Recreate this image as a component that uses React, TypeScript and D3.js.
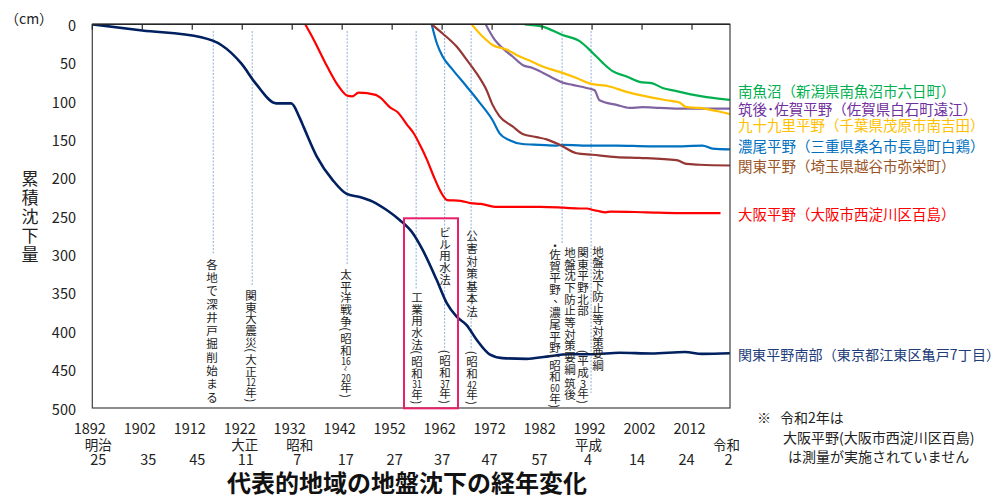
import React from "react";
import * as d3 from "d3";

// ---------- data ----------
const tickYears = [1892, 1902, 1912, 1922, 1932, 1942, 1952, 1962, 1972, 1982, 1992, 2002, 2012];
const yTicks = [0, 50, 100, 150, 200, 250, 300, 350, 400, 450, 500];
const eraNames: [string, number][] = [["明治", 1893.2], ["大正", 1922.5], ["昭和", 1933.5], ["平成", 1991.3], ["令和", 2018.9]];
const eraNums: [string, number][] = [["25", 1893.2], ["35", 1903.2], ["45", 1913], ["11", 1922.7], ["7", 1933], ["17", 1942.7], ["27", 1952.5], ["37", 1962], ["47", 1971.5], ["57", 1981.5], ["4", 1991.2], ["14", 2001], ["24", 2010.9], ["2", 2019.3]];

const kameido: [number, number][] = [[1892, 0], [1902, 8], [1913.8, 17], [1917.8, 27], [1921.8, 51], [1924.8, 78], [1928.8, 103], [1931.8, 103], [1933.5, 122], [1934.3, 134], [1936.9, 172], [1940.1, 203], [1942.9, 221], [1945.5, 225], [1948.1, 231], [1950.9, 242], [1953.5, 255], [1956.1, 272], [1958.1, 294], [1960.9, 333], [1962.9, 363], [1964.9, 381], [1966.9, 392], [1968.9, 411], [1971.5, 430], [1974.1, 435], [1978.9, 436], [1982.9, 433], [1987.5, 430], [1992.1, 430], [1997.5, 428], [2003.9, 429], [2010.6, 427], [2014, 429.5], [2019.6, 428.7]];
const osaka: [number, number][] = [[1934.6, 0], [1936.3, 20], [1939, 55], [1941.3, 81], [1943, 93], [1944, 94], [1945.3, 89], [1948.7, 92], [1949.7, 96], [1951.7, 109], [1953, 114], [1955, 131], [1956.3, 142], [1957.7, 159], [1959, 177], [1960.3, 198], [1961.7, 218], [1963, 229], [1965.7, 230], [1967.7, 233], [1969.7, 234], [1973, 238], [1976.3, 238], [1981.7, 238], [1986.3, 239], [1989.6, 240], [1991, 240], [1992.2, 242], [1993, 243], [1994.7, 245], [1995.7, 244], [2002.9, 245], [2009.7, 246], [2017.7, 246]];
const nobi: [number, number][] = [[1959.9, 0], [1960.9, 24], [1962.1, 42], [1964.1, 59], [1966.9, 81], [1969.5, 102], [1972.1, 125], [1973.5, 142], [1975.5, 151], [1978.1, 156], [1981.5, 157], [1984.9, 158], [1986.1, 157], [1990.1, 158], [1996.9, 158], [2003.5, 159], [2010.1, 159], [2014.1, 158], [2016.1, 162], [2019.6, 163]];
const kanto: [number, number][] = [[1959.9, 0], [1962.1, 12], [1964.9, 29], [1966.9, 46], [1968.9, 64], [1970.9, 86], [1972.1, 105], [1973.5, 120], [1976.1, 133], [1978.1, 143], [1980.9, 147], [1982.9, 150], [1985.5, 157], [1988.9, 168], [1992.1, 170], [1996.9, 173], [2001.5, 174], [2008.9, 177], [2010.9, 182], [2013.5, 183], [2019.6, 184]];
const kujukuri: [number, number][] = [[1967.9, 0], [1970.1, 16], [1972.1, 27], [1974.9, 33], [1977.5, 42], [1980.1, 49], [1982.1, 55], [1985.5, 62], [1988.9, 70], [1991.5, 77], [1995.5, 81], [1998.9, 88], [2002.1, 93], [2006.9, 99], [2009.5, 102], [2010.9, 108], [2013.5, 109], [2016.9, 113], [2019.6, 117]];
const chikugo: [number, number][] = [[1970.7, 0], [1972.5, 20], [1974.1, 31], [1976.1, 42], [1978.1, 53], [1980.1, 57], [1982.1, 63], [1984.1, 70], [1986.1, 76], [1988.1, 79], [1990.9, 83], [1992.5, 86], [1993.5, 99], [1996.9, 105], [1999.5, 109], [2002.1, 108], [2005.5, 109], [2010.1, 110], [2019.6, 110]];
const minamiuonuma: [number, number][] = [[1978.5, 0], [1982.1, 3], [1986.1, 14], [1989.5, 22], [1992.1, 37], [1994.1, 50], [1996.1, 61], [1998.9, 68], [2001.5, 75], [2004.1, 77], [2006.1, 83], [2008.9, 87], [2011.5, 91], [2014.9, 95], [2019.6, 98.5]];

const seriesNames = [
  "南魚沼（新潟県南魚沼市六日町）",
  "筑後･佐賀平野（佐賀県白石町遠江）",
  "九十九里平野（千葉県茂原市南吉田）",
  "濃尾平野（三重県桑名市長島町白鶏）",
  "関東平野（埼玉県越谷市弥栄町）",
  "大阪平野（大阪市西淀川区百島）",
  "関東平野南部（東京都江東区亀戸7丁目）",
];
const seriesData = [minamiuonuma, chikugo, kujukuri, nobi, kanto, osaka, kameido];

// events: year of the dashed line
const eventYears = [1916.2, 1924, 1943, 1956.8, 1962.5, 1967.8, 1986, 1991.8];

// ---------- styles / layout ----------
const lineColors = ["#00B050", "#8064A2", "#FFC000", "#0070C0", "#953735", "#FF0000", "#002060"];
const textColors = ["#00B050", "#7030A0", "#FFC000", "#0070C0", "#9A5527", "#FF0000", "#1F3D7A"];
const labelY = [90, 108, 124.5, 145.7, 165, 213.3, 354];
const eventLineEnd = [255, 286, 265, 290, 350, 350, 243, 393];

const FONT = "'Noto Sans CJK JP', 'Noto Sans', sans-serif";

const x = d3.scaleLinear().domain([1892, 2019.6]).range([92.3, 730]);
const y = d3.scaleLinear().domain([0, 500]).range([24.3, 408]);

type Col = { x: number; y0: number; text: string; step?: number };
const vcols: Col[] = [
  { x: 212, y0: 257, text: "各地で深井戸掘削始まる", step: 13.3 },
  { x: 251, y0: 289, text: "関東大震災（大正12年）" },
  { x: 346, y0: 268, text: "太平洋戦争（昭和16～20年）" },
  { x: 417, y0: 291, text: "工業用水法（昭和31年）" },
  { x: 445, y0: 226, text: "ビル用水法" },
  { x: 445, y0: 349, text: "（昭和37年）" },
  { x: 472, y0: 229, text: "公害対策基本法", step: 12.6 },
  { x: 472, y0: 350, text: "（昭和42年）" },
  { x: 555, y0: 242, text: "・佐賀平野、濃尾平野（昭和60年）" },
  { x: 570, y0: 246, text: "地盤沈下防止等対策要綱 筑後" },
  { x: 583, y0: 246, text: "関東平野北部" },
  { x: 583, y0: 349, text: "（平成3年）" },
  { x: 598, y0: 245, text: "地盤沈下防止等対策要綱", step: 11.4 },
];

function VText({ col }: { col: Col }) {
  const step = col.step ?? 11.7;
  const fs = 11.5;
  const tokens = col.text.match(/\d+|./gu) || [];
  let cur = col.y0;
  const out: React.ReactNode[] = [];
  tokens.forEach((t, i) => {
    let adv = step;
    let node: React.ReactNode = null;
    if (/^\d+$/.test(t)) {
      adv = 9.5;
      node = (
        <text key={i} x={col.x} y={cur + adv / 2} fontSize={11} textAnchor="middle" dominantBaseline="central"
          textLength={t.length > 1 ? 9.5 : undefined} lengthAdjust="spacingAndGlyphs">{t}</text>
      );
    } else if (t === "（" || t === "）") {
      adv = 5.5;
      const c = cur + adv / 2;
      node = (
        <text key={i} x={col.x} y={c} fontSize={fs} textAnchor="middle" dominantBaseline="central"
          transform={`rotate(90 ${col.x} ${c})`}>{t === "（" ? "(" : ")"}</text>
      );
    } else if (t === "～") {
      adv = 7;
      const c = cur + adv / 2;
      node = (
        <text key={i} x={col.x} y={c} fontSize={10} textAnchor="middle" dominantBaseline="central"
          transform={`rotate(90 ${col.x} ${c})`}>~</text>
      );
    } else if (t === "、") {
      adv = step;
      node = (
        <text key={i} x={col.x + 4} y={cur + adv / 2 - 4} fontSize={fs} textAnchor="middle" dominantBaseline="central">{t}</text>
      );
    } else if (t === "・") {
      adv = 6;
      node = (
        <text key={i} x={col.x} y={cur + adv / 2} fontSize={fs} textAnchor="middle" dominantBaseline="central">{t}</text>
      );
    } else if (t === " ") {
      adv = 2;
    } else {
      node = (
        <text key={i} x={col.x} y={cur + adv / 2} fontSize={fs} textAnchor="middle" dominantBaseline="central">{t}</text>
      );
    }
    if (node) out.push(node);
    cur += adv;
  });
  return <g fill="#222">{out}</g>;
}

export default function App() {
  const line = d3
    .line<[number, number]>()
    .x((d) => x(d[0]))
    .y((d) => y(d[1]))
    .curve(d3.curveMonotoneX);
  const [x0, x1] = x.range();
  const [y0, y1] = y.range();
  const yTitle = "累積沈下量".split("");

  return (
    <svg width={1005} height={498} style={{ position: "absolute", left: 0, top: 0, background: "#fff" }} fontFamily={FONT}>
      <rect x={0} y={0} width={1005} height={498} fill="#fff" />
      {/* event dashed lines */}
      {eventYears.map((ev, i) => (
        <line key={i} x1={x(ev)} x2={x(ev)} y1={31} y2={eventLineEnd[i]} stroke="#8FB0DA" strokeWidth={1} strokeDasharray="2,1.5" />
      ))}

      {/* series lines */}
      <defs>
        <clipPath id="plot">
          <rect x={x0} y={y0} width={x1 - x0 + 2} height={y1 - y0} />
        </clipPath>
      </defs>
      <g clipPath="url(#plot)">
        {seriesData.map((s, i) => (
          <path key={i} d={line(s) || ""} fill="none" stroke={lineColors[i]} strokeWidth={i === 6 ? 2.6 : 2.2} strokeLinejoin="round" />
        ))}
      </g>

      {/* frame */}
      <rect x={x0} y={y0} width={x1 - x0} height={y1 - y0} fill="none" stroke="#404040" strokeWidth={1.2} />
      <line x1={x0} x2={x1} y1={y0} y2={y0} stroke="#262626" strokeWidth={1.6} />
      {tickYears.map((t) => (
        <line key={t} x1={x(t)} x2={x(t)} y1={y0} y2={y0 + 5.5} stroke="#262626" strokeWidth={1.2} />
      ))}

      {/* red box */}
      <rect x={404} y={218.3} width={54} height={190} fill="none" stroke="#E8206A" strokeWidth={2} />

      {/* y axis labels */}
      {yTicks.map((t) => (
        <text key={t} x={76} y={y(t)} fontSize={14.5} textAnchor="end" dominantBaseline="central" fill="#222">{t}</text>
      ))}
      <text x={5} y={18} fontSize={14} dominantBaseline="central" fill="#222">（cm）</text>
      {yTitle.map((c, i) => (
        <text key={i} x={30} y={177 + i * 19} fontSize={17} textAnchor="middle" dominantBaseline="central" fill="#222">{c}</text>
      ))}

      {/* x axis labels */}
      {tickYears.map((t) => (
        <text key={t} x={x(t) - 2.5} y={427} fontSize={14.5} textAnchor="middle" dominantBaseline="central" fill="#222">{t}</text>
      ))}
      {eraNames.map(([n, yr]) => (
        <text key={n} x={x(yr)} y={443.5} fontSize={13.5} textAnchor="middle" dominantBaseline="central" fill="#222">{n}</text>
      ))}
      {eraNums.map(([n, yr], i) => (
        <text key={i} x={x(yr)} y={458.5} fontSize={14.5} textAnchor="middle" dominantBaseline="central" fill="#222">{n}</text>
      ))}

      {/* vertical annotations */}
      {vcols.map((c, i) => (
        <VText key={i} col={c} />
      ))}

      {/* series labels */}
      {seriesNames.map((n, i) => (
        <text key={i} x={738} y={labelY[i]} fontSize={i === 6 ? 14 : 14.5} dominantBaseline="central" fill={textColors[i]}
          textLength={i === 6 ? 262 : undefined} lengthAdjust="spacing">{n}</text>
      ))}

      {/* note */}
      <text x={757} y={417} fontSize={14} dominantBaseline="central" fill="#222">※</text>
      <text x={780} y={417} fontSize={14} dominantBaseline="central" fill="#222">令和2年は</text>
      <text x={783} y={437} fontSize={14} dominantBaseline="central" fill="#222">大阪平野(大阪市西淀川区百島)</text>
      <text x={788} y={456} fontSize={14} dominantBaseline="central" fill="#222">は測量が実施されていません</text>

      {/* title */}
      <text x={407} y={481} fontSize={24} fontWeight="bold" textAnchor="middle" dominantBaseline="central" fill="#111">代表的地域の地盤沈下の経年変化</text>
    </svg>
  );
}
